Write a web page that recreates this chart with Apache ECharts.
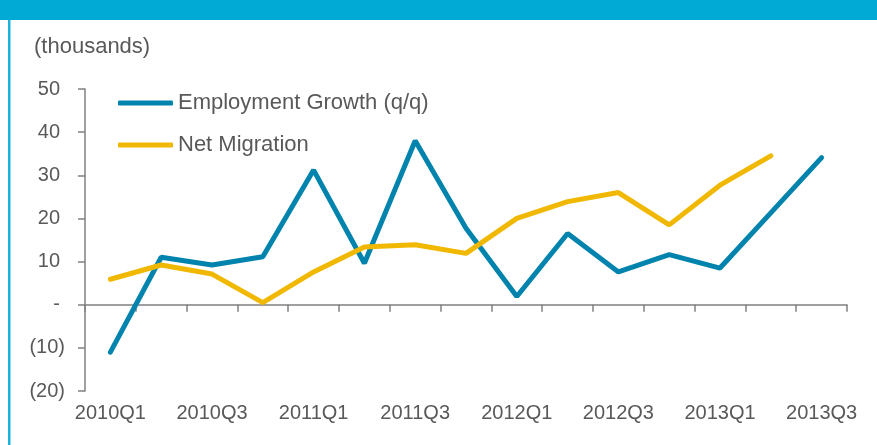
<!DOCTYPE html>
<html>
<head>
<meta charset="utf-8">
<script src="https://cdn.jsdelivr.net/npm/echarts@6/dist/echarts.min.js"></script>
<style>
html,body{margin:0;padding:0;background:#fff;}
#c{width:877px;height:445px;}
</style>
</head>
<body>
<div id="c"></div>
<script>
var categories = ['2010Q1','2010Q2','2010Q3','2010Q4','2011Q1','2011Q2','2011Q3','2011Q4','2012Q1','2012Q2','2012Q3','2012Q4','2013Q1','2013Q2','2013Q3'];
var employmentGrowth = [-11.0, 11.0, 9.2, 11.1, 31.2, 9.6, 38.0, 17.7, 1.9, 16.5, 7.6, 11.6, 8.5, 21.3, 34.1];
var netMigration = [5.9, 9.2, 7.1, 0.5, 7.6, 13.4, 13.9, 11.9, 20.0, 23.9, 26.0, 18.5, 27.7, 34.5, null];
var yTicks = [-20, -10, 0, 10, 20, 30, 40, 50];

var textColor = '#595959';
var axisColor = '#808080';
var blue = '#0083AC';
var gold = '#F0B800';
var font = '"Liberation Sans", Arial, sans-serif';

var chart = echarts.init(document.getElementById('c'), null, {renderer: 'canvas'});
chart.setOption({
  backgroundColor: '#ffffff',
  animation: false,
  textStyle: {fontFamily: font},
  graphic: [
    {type: 'rect', left: 0, top: 0, shape: {width: 877, height: 20}, style: {fill: '#00AAD4'}},
    {type: 'rect', left: 8, top: 20, shape: {width: 2.5, height: 425}, style: {fill: '#1DB3DE'}}
  ],
  title: {
    text: '(thousands)',
    left: 34,
    top: 36,
    padding: 0,
    textStyle: {fontSize: 22, fontWeight: 'normal', color: textColor, fontFamily: font}
  },
  legend: {
    orient: 'vertical',
    left: 118,
    top: 91,
    padding: 0,
    icon: 'roundRect',
    itemWidth: 55,
    itemHeight: 5,
    itemGap: 18,
    textStyle: {fontSize: 22, lineHeight: 24, color: textColor, fontFamily: font},
    data: [
      {name: 'Employment Growth (q/q)', itemStyle: {color: blue}},
      {name: 'Net Migration', itemStyle: {color: gold}}
    ]
  },
  grid: {left: 85, right: 30, top: 89, bottom: 54, containLabel: false},
  xAxis: [
    {
      type: 'category',
      data: categories,
      boundaryGap: true,
      position: 'bottom',
      axisLine: {show: true, onZero: true, lineStyle: {color: axisColor, width: 1.5}},
      axisTick: {show: true, interval: 0, length: 7, lineStyle: {color: axisColor, width: 1.5}},
      axisLabel: {show: false},
      splitLine: {show: false}
    },
    {
      type: 'category',
      data: categories,
      boundaryGap: true,
      position: 'bottom',
      axisLine: {show: false, onZero: false},
      axisTick: {show: false},
      axisLabel: {show: true, interval: 1, margin: 12, fontSize: 20, color: textColor, fontFamily: font},
      splitLine: {show: false}
    }
  ],
  yAxis: {
    type: 'value',
    min: yTicks[0],
    max: yTicks[yTicks.length - 1],
    interval: 10,
    axisLine: {show: true, lineStyle: {color: axisColor, width: 1.5}},
    axisTick: {show: true, length: 7, lineStyle: {color: axisColor, width: 1.5}},
    splitLine: {show: false},
    axisLabel: {
      margin: 20,
      fontSize: 20,
      color: textColor,
      fontFamily: font,
      formatter: function (v) {
        if (v === 0) return '{p|-}';
        if (v < 0) return '(' + Math.abs(v) + ')';
        return '{p|' + v + '}';
      },
      rich: {
        p: {fontSize: 20, color: textColor, fontFamily: font, padding: [0, 5, 0, 0]}
      }
    }
  },
  series: [
    {
      name: 'Employment Growth (q/q)',
      type: 'line',
      data: employmentGrowth,
      xAxisIndex: 0,
      symbol: 'none',
      smooth: false,
      lineStyle: {color: blue, width: 5, cap: 'round'},
      itemStyle: {color: blue}
    },
    {
      name: 'Net Migration',
      type: 'line',
      data: netMigration,
      xAxisIndex: 0,
      symbol: 'none',
      smooth: false,
      lineStyle: {color: gold, width: 5, cap: 'round'},
      itemStyle: {color: gold}
    }
  ]
});
</script>
</body>
</html>
